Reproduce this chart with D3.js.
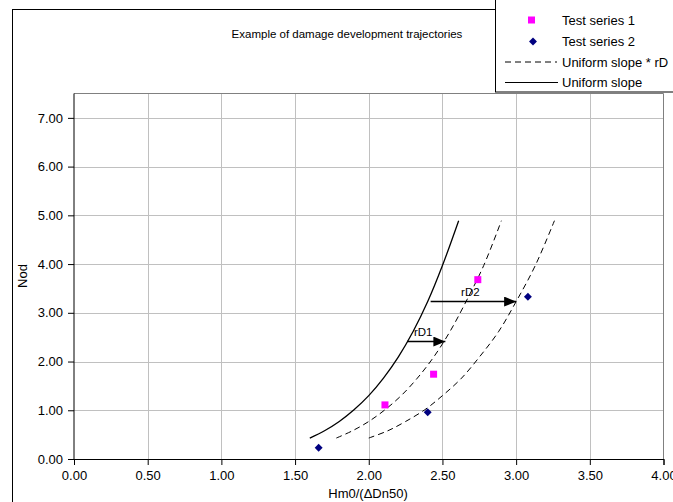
<!DOCTYPE html>
<html>
<head>
<meta charset="utf-8">
<script src="https://cdn.jsdelivr.net/npm/d3@7"></script>
<style>
  body { margin: 0; background: #fff; }
  svg { font-family: "Liberation Sans", Arial, sans-serif; }
</style>
</head>
<body>
<div id="chart"></div>
<script>
// values
let xTicks = [0, 0.5, 1, 1.5, 2, 2.5, 3, 3.5, 4];
let yTicks = [0, 1, 2, 3, 4, 5, 6, 7];

let testSeries1 = [[2.11, 1.11], [2.44, 1.74], [2.74, 3.68]];
let testSeries2 = [[1.66, 0.23], [2.40, 0.96], [3.08, 3.33]];

let uniformSlope = [[1.60, 0.43], [1.70, 0.58], [1.80, 0.77], [1.90, 1.01], [2.00, 1.30],
  [2.10, 1.66], [2.20, 2.09], [2.30, 2.61], [2.40, 3.23], [2.50, 3.97], [2.61, 4.89]];
let uniformSlopeRD1 = [[1.78, 0.43], [1.89, 0.58], [2.00, 0.77], [2.11, 1.01], [2.22, 1.30],
  [2.33, 1.66], [2.44, 2.09], [2.55, 2.61], [2.66, 3.23], [2.78, 3.97], [2.90, 4.89]];
let uniformSlopeRD2 = [[2.00, 0.43], [2.13, 0.58], [2.25, 0.77], [2.38, 1.01], [2.50, 1.30],
  [2.63, 1.66], [2.75, 2.09], [2.88, 2.61], [3.00, 3.23], [3.13, 3.97], [3.26, 4.89]];

let arrows = [
  {label: "rD1", x0: 2.26, x1: 2.52, y: 2.41},
  {label: "rD2", x0: 2.42, x1: 3.00, y: 3.23}
];

let legendItems = ["Test series 1", "Test series 2", "Uniform slope * rD", "Uniform slope"];

let width = 673, height = 502;
let plot = {left: 74, right: 663.5, top: 93.5, bottom: 459};

let svg = d3.select("#chart")
            .append("svg")
            .attr("width", width)
            .attr("height", height);

// chart frame
svg.append("rect")
   .attr("x", 12.5).attr("y", 9.5)
   .attr("width", 700).attr("height", 520)
   .attr("fill", "none").attr("stroke", "#000");

let xscale = d3.scaleLinear().domain([0, 4]).range([plot.left, plot.right]);
let yscale = d3.scaleLinear().domain([0, 7.5]).range([plot.bottom, plot.top]);

// grid
svg.append("g").selectAll("line")
   .data(xTicks.slice(1, -1))
   .enter().append("line")
   .attr("x1", d => Math.round(xscale(d)) + 0.5).attr("x2", d => Math.round(xscale(d)) + 0.5)
   .attr("y1", plot.top).attr("y2", plot.bottom)
   .attr("stroke", "#c0c0c0");
svg.append("g").selectAll("line")
   .data(yTicks.slice(1))
   .enter().append("line")
   .attr("x1", plot.left).attr("x2", plot.right)
   .attr("y1", d => Math.round(yscale(d)) + 0.5).attr("y2", d => Math.round(yscale(d)) + 0.5)
   .attr("stroke", "#c0c0c0");

// plot border top/right
svg.append("path")
   .attr("d", `M${plot.left},${plot.top}H${plot.right}V${plot.bottom}`)
   .attr("fill", "none").attr("stroke", "#808080");

// axes
let xaxis = svg.append("g")
   .attr("transform", `translate(0,${plot.bottom})`)
   .call(d3.axisBottom(xscale).tickValues(xTicks).tickFormat(d3.format(".2f")).tickSizeOuter(0).tickSize(6).tickPadding(6));
let yaxis = svg.append("g")
   .attr("transform", `translate(${plot.left},0)`)
   .call(d3.axisLeft(yscale).tickValues(yTicks).tickFormat(d3.format(".2f")).tickSizeOuter(0).tickSize(6).tickPadding(5));
[xaxis, yaxis].forEach(a => {
  a.attr("font-family", "Liberation Sans, Arial, sans-serif").attr("font-size", 13);
  a.selectAll("text").attr("fill", "#000");
  a.selectAll("line, path").attr("stroke", "#000");
});
yaxis.select(".domain").attr("d", `M0,${plot.bottom}V${plot.top}`);

// curves
let line = d3.line()
             .x(d => xscale(d[0]))
             .y(d => yscale(d[1]))
             .curve(d3.curveCatmullRom);

svg.append("path").datum(uniformSlope)
   .attr("d", line).attr("fill", "none").attr("stroke", "#000").attr("stroke-width", 1.3);
[uniformSlopeRD1, uniformSlopeRD2].forEach(s => {
  svg.append("path").datum(s)
     .attr("d", line).attr("fill", "none").attr("stroke", "#000")
     .attr("stroke-width", 1).attr("stroke-dasharray", "6,4");
});

// arrows
svg.append("defs").append("marker")
   .attr("id", "head")
   .attr("viewBox", "0 0 12 10")
   .attr("refX", 12).attr("refY", 5)
   .attr("markerWidth", 12).attr("markerHeight", 10)
   .attr("markerUnits", "userSpaceOnUse")
   .attr("orient", "auto")
   .append("path").attr("d", "M0,0L12,5L0,10Z").attr("fill", "#000");

arrows.forEach(a => {
  svg.append("line")
     .attr("x1", xscale(a.x0)).attr("x2", xscale(a.x1))
     .attr("y1", yscale(a.y)).attr("y2", yscale(a.y))
     .attr("stroke", "#000").attr("stroke-width", 1.5)
     .attr("marker-end", "url(#head)");
  svg.append("text")
     .text(a.label)
     .attr("x", (xscale(a.x0) + xscale(a.x1)) / 2 - 3)
     .attr("y", yscale(a.y) - 6)
     .attr("text-anchor", "middle")
     .attr("font-size", 11.5);
});

// points
svg.selectAll("rect.s1")
   .data(testSeries1).enter().append("rect")
   .attr("class", "s1")
   .attr("x", d => xscale(d[0]) - 3.5).attr("y", d => yscale(d[1]) - 3.5)
   .attr("width", 7).attr("height", 7)
   .attr("fill", "#ff00ff");
let diamond = d3.symbol().type(d3.symbolDiamond2).size(40);
svg.selectAll("path.s2")
   .data(testSeries2).enter().append("path")
   .attr("class", "s2")
   .attr("d", diamond)
   .attr("transform", d => `translate(${xscale(d[0])},${yscale(d[1])})`)
   .attr("fill", "#000080");

// titles
svg.append("text")
   .text("Example of damage development trajectories")
   .attr("x", 347).attr("y", 38)
   .attr("text-anchor", "middle")
   .attr("font-size", 11.5);
svg.append("text")
   .text("Hm0/(ΔDn50)")
   .attr("x", 368).attr("y", 498)
   .attr("text-anchor", "middle")
   .attr("font-size", 13);
svg.append("text")
   .text("Nod")
   .attr("transform", "translate(27,276) rotate(-90)")
   .attr("text-anchor", "middle")
   .attr("font-size", 13);

// legend
let legend = svg.append("g");
legend.append("rect")
      .attr("x", 495.5).attr("y", -1)
      .attr("width", 200).attr("height", 93)
      .attr("fill", "#fff").attr("stroke", "#000");
let rowY = [20, 41.5, 62, 82.5];
legendItems.forEach((t, i) => {
  legend.append("text").text(t)
        .attr("x", 562).attr("y", rowY[i] + 4.5)
        .attr("font-size", 13);
});
legend.append("rect")
      .attr("x", 528).attr("y", rowY[0] - 3.5)
      .attr("width", 7).attr("height", 7)
      .attr("fill", "#ff00ff");
legend.append("path")
      .attr("d", diamond)
      .attr("transform", `translate(533,${rowY[1]})`)
      .attr("fill", "#000080");
legend.append("line")
      .attr("x1", 505).attr("x2", 557)
      .attr("y1", rowY[2]).attr("y2", rowY[2])
      .attr("stroke", "#000").attr("stroke-dasharray", "6,4");
legend.append("line")
      .attr("x1", 505).attr("x2", 558)
      .attr("y1", rowY[3]).attr("y2", rowY[3])
      .attr("stroke", "#000");
</script>
</body>
</html>
